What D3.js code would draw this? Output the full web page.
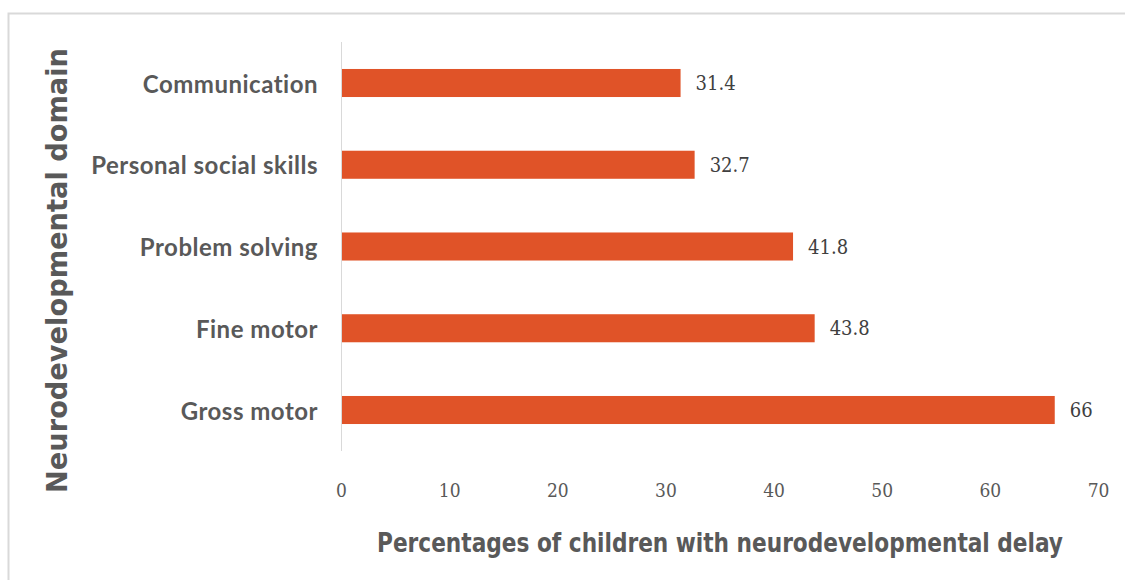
<!DOCTYPE html>
<html>
<head>
<meta charset="utf-8">
<script src="https://cdn.jsdelivr.net/npm/d3@7"></script>
<style>
  body { margin: 0; background: #fff; }
  svg { display: block; }
</style>
</head>
<body>
<svg width="1125" height="580"></svg>
<script>
// chart data
var domains = ['Communication', 'Personal social skills', 'Problem solving', 'Fine motor', 'Gross motor'];
var percents = [31.4, 32.7, 41.8, 43.8, 66];
var xTicks = [0, 10, 20, 30, 40, 50, 60, 70];

var svg = d3.select('svg');

// outer frame (only top and left edge visible)
svg.append('path')
    .attr('d', 'M 8.5,580 L 8.5,13.5 L 1125,13.5')
    .attr('fill', 'none')
    .attr('stroke', '#d9d9d9')
    .attr('stroke-width', 2);

var x = d3.scaleLinear().domain([0, 70]).range([341, 1098]);
var y = d3.scaleBand().domain(domains).range([42, 451]).paddingInner(0.657).paddingOuter(0.33);

// value axis: labels only
var xAxis = svg.append('g')
    .attr('transform', 'translate(0,490)')
    .call(d3.axisBottom(x).tickValues(xTicks).tickSize(0).tickPadding(0));
xAxis.select('.domain').remove();
xAxis.selectAll('text')
    .attr('dy', '0.35em')
    .style('font-family', '"DejaVu Serif Condensed", "DejaVu Serif", serif')
    .style('font-size', '19px')
    .attr('fill', '#595959');

// category axis
var yAxis = svg.append('g')
    .attr('transform', 'translate(341,0)')
    .call(d3.axisLeft(y).tickSize(0).tickPadding(23));
yAxis.select('.domain').remove();
yAxis.selectAll('text')
    .attr('dy', '0.4em')
    .style('font-family', 'Lato, sans-serif')
    .style('font-weight', 'bold')
    .style('font-size', '24px')
    .style('letter-spacing', '0.5px')
    .attr('fill', '#595959');

svg.append('line')
    .attr('x1', x(0) + 0.5).attr('x2', x(0) + 0.5)
    .attr('y1', 42).attr('y2', 451)
    .attr('stroke', '#d9d9d9')
    .attr('stroke-width', 1);

var rows = domains.map(function(d, i) { return {name: d, value: percents[i]}; });

svg.selectAll('rect.bar')
    .data(rows).enter().append('rect')
    .classed('bar', true)
    .attr('x', x(0) + 1)
    .attr('y', function(d) { return y(d.name); })
    .attr('width', function(d) { return x(d.value) - x(0) - 1; })
    .attr('height', y.bandwidth())
    .attr('fill', '#e05328');

svg.selectAll('text.val')
    .data(rows).enter().append('text')
    .classed('val', true)
    .attr('x', function(d) { return x(d.value) + 15; })
    .attr('y', function(d) { return y(d.name) + y.bandwidth() / 2; })
    .attr('dy', '0.35em')
    .style('font-family', '"DejaVu Serif Condensed", "DejaVu Serif", serif')
    .style('font-size', '20px')
    .attr('fill', '#404040')
    .text(function(d) { return d.value; });

// axis titles
svg.append('text')
    .attr('x', 720).attr('y', 552)
    .attr('text-anchor', 'middle')
    .attr('textLength', 686)
    .attr('lengthAdjust', 'spacingAndGlyphs')
    .style('font-family', '"DejaVu Sans Condensed", "DejaVu Sans", sans-serif')
    .style('font-weight', 'bold')
    .style('font-size', '26px')
    .attr('fill', '#595959')
    .text('Percentages of children with neurodevelopmental delay');

svg.append('text')
    .attr('transform', 'translate(67,270.5)rotate(-90)')
    .attr('text-anchor', 'middle')
    .attr('textLength', 445)
    .attr('lengthAdjust', 'spacingAndGlyphs')
    .style('font-family', '"DejaVu Sans", sans-serif')
    .style('font-weight', 'bold')
    .style('font-size', '29px')
    .attr('fill', '#595959')
    .text('Neurodevelopmental domain');
</script>
</body>
</html>
